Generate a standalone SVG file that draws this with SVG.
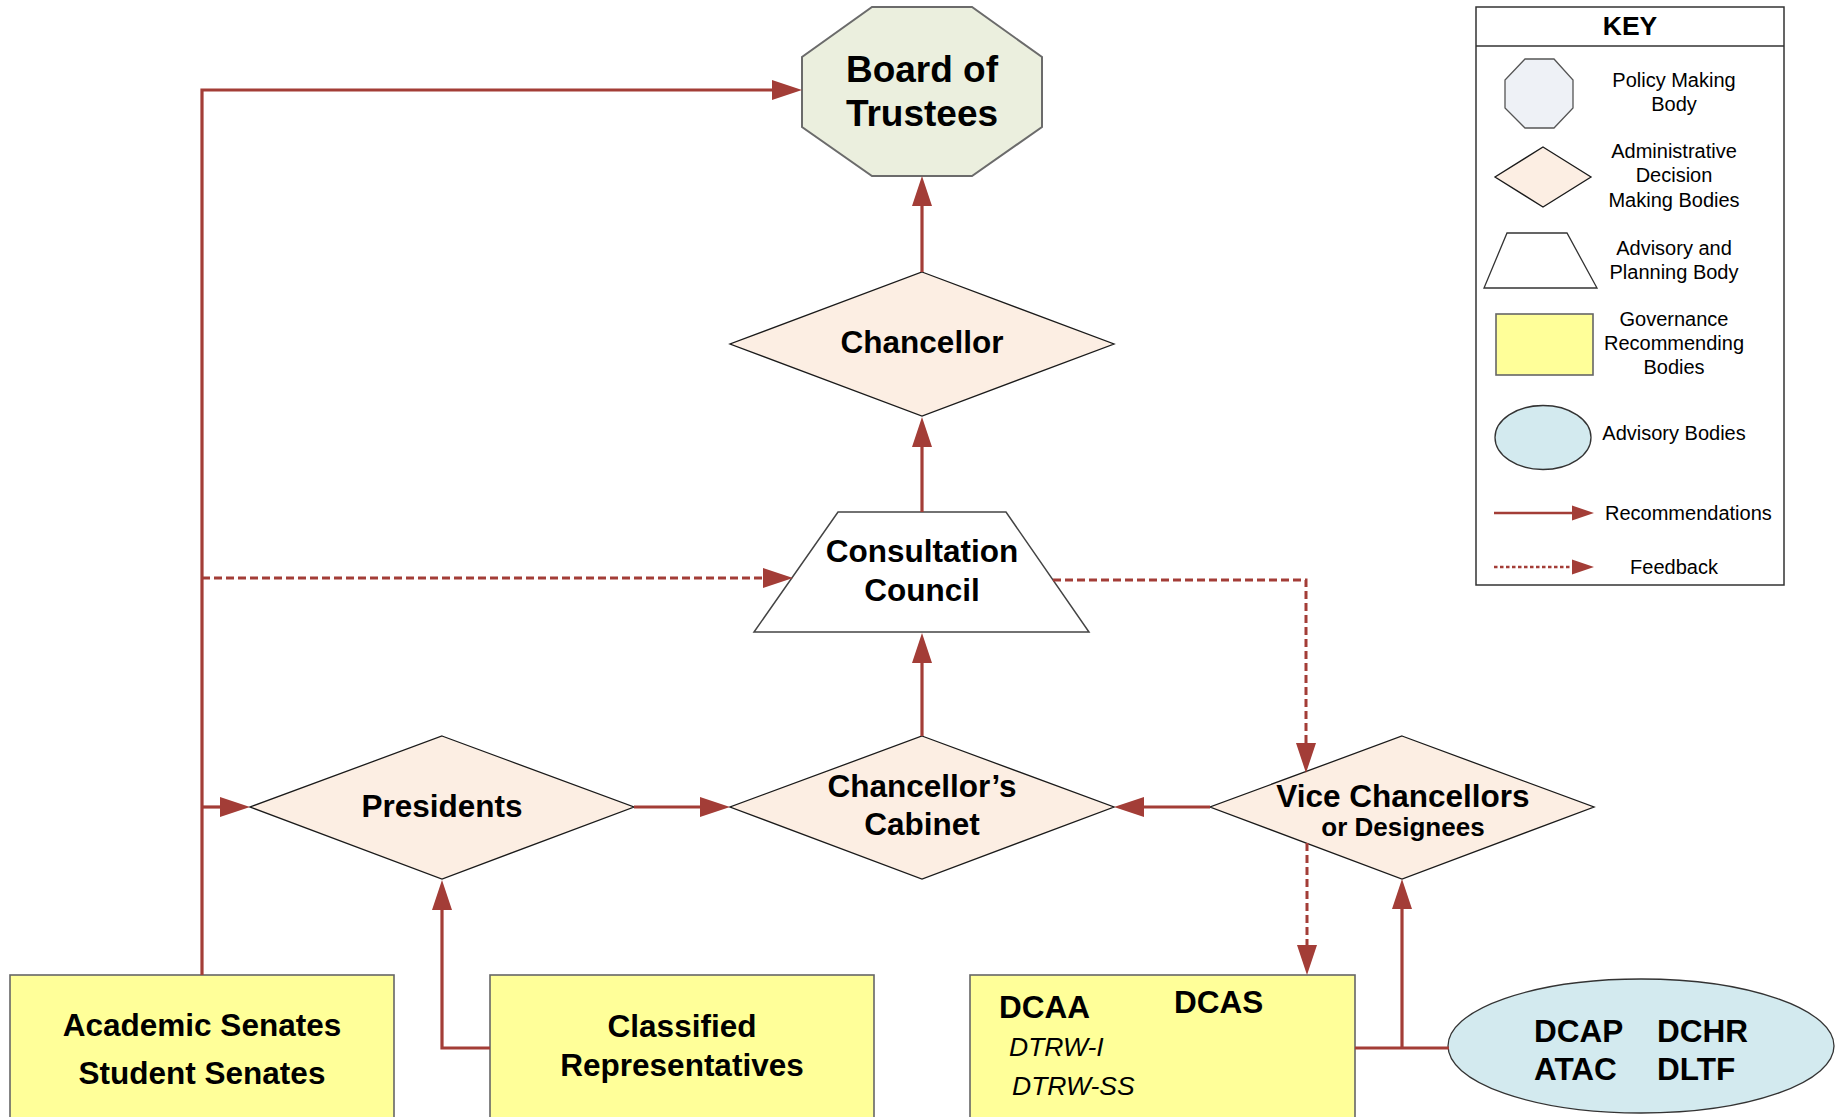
<svg xmlns="http://www.w3.org/2000/svg" width="1845" height="1117" viewBox="0 0 1845 1117">
<style>
.t{font-family:"Liberation Sans",Arial,sans-serif;font-weight:bold;fill:#000;text-anchor:middle}
.b{font-size:31.5px}
.k{font-family:"Liberation Sans",Arial,sans-serif;font-size:20px;fill:#000;text-anchor:middle}
.dia{fill:#FCEEE3;stroke:#1a1a1a;stroke-width:1.3}
.box{fill:#FFFF99;stroke:#666;stroke-width:1.6}
.ell{fill:#D3EAEF;stroke:#333;stroke-width:1.3}
.c{fill:none;stroke:#A33D37;stroke-width:3.2;marker-end:url(#ah)}
.n{fill:none;stroke:#A33D37;stroke-width:3.2}
.d{fill:none;stroke:#A33D37;stroke-width:3;stroke-dasharray:8,4;marker-end:url(#ah)}
</style>
<defs>
<marker id="ah" markerUnits="userSpaceOnUse" markerWidth="30" markerHeight="20" viewBox="0 0 30 20" refX="0" refY="10" orient="auto" overflow="visible"><path d="M0,0 L30,10 L0,20 z" fill="#A33D37"/></marker>
<marker id="ahs" markerUnits="userSpaceOnUse" markerWidth="22" markerHeight="15" viewBox="0 0 22 15" refX="0" refY="7.5" orient="auto" overflow="visible"><path d="M0,0 L22,7.5 L0,15 z" fill="#A33D37"/></marker>
</defs>
<rect width="1845" height="1117" fill="#fff"/>

<g id="board">
<polygon points="872,7 972,7 1042,57 1042,127 972,176 872,176 802,127 802,57" fill="#EBEFDE" stroke="#6b6b6b" stroke-width="2"/>
<text class="t" x="922" y="82" font-size="37">Board of</text>
<text class="t" x="922" y="126" font-size="37">Trustees</text>
</g>

<g id="chancellor">
<polygon class="dia" points="922,272 1114,344 922,416 730,344"/>
<text class="t b" x="922" y="353">Chancellor</text>
</g>

<g id="consultation">
<polygon points="838,512 1006,512 1089,632 754,632" fill="#fff" stroke="#444" stroke-width="1.5"/>
<text class="t b" x="922" y="562">Consultation</text>
<text class="t b" x="922" y="601">Council</text>
</g>

<g id="presidents">
<polygon class="dia" points="442,736 634,807 442,879 250,807"/>
<text class="t b" x="442" y="817">Presidents</text>
</g>

<g id="cabinet">
<polygon class="dia" points="922,736 1114,807 922,879 730,807"/>
<text class="t b" x="922" y="797">Chancellor’s</text>
<text class="t b" x="922" y="835">Cabinet</text>
</g>

<g id="vice">
<polygon class="dia" points="1402,736 1594,807 1402,879 1210,807"/>
<text class="t b" x="1403" y="807">Vice Chancellors</text>
<text class="t" x="1403" y="836" font-size="26">or Designees</text>
</g>

<g id="senates">
<rect class="box" x="10" y="975" width="384" height="160"/>
<text class="t b" x="202" y="1036">Academic Senates</text>
<text class="t b" x="202" y="1084">Student Senates</text>
</g>

<g id="classified">
<rect class="box" x="490" y="975" width="384" height="160"/>
<text class="t b" x="682" y="1037">Classified</text>
<text class="t b" x="682" y="1076">Representatives</text>
</g>

<g id="dcaa">
<rect class="box" x="970" y="975" width="385" height="160"/>
<text class="t b" x="999" y="1018" style="text-anchor:start">DCAA</text>
<text class="t b" x="1174" y="1013" style="text-anchor:start">DCAS</text>
<text x="1009" y="1056" font-family="Liberation Sans, Arial, sans-serif" font-size="26.5" font-style="italic">DTRW-I</text>
<text x="1012" y="1095" font-family="Liberation Sans, Arial, sans-serif" font-size="26.5" font-style="italic">DTRW-SS</text>
</g>

<g id="advisory">
<ellipse class="ell" cx="1641" cy="1046" rx="193" ry="67"/>
<text class="t b" x="1534" y="1042" style="text-anchor:start">DCAP</text>
<text class="t b" x="1657" y="1042" style="text-anchor:start">DCHR</text>
<text class="t b" x="1534" y="1080" style="text-anchor:start">ATAC</text>
<text class="t b" x="1657" y="1080" style="text-anchor:start">DLTF</text>
</g>

<g id="connectors">
<path class="c" d="M922,272 V206"/>
<path class="c" d="M922,512 V447"/>
<path class="c" d="M922,736 V663"/>
<path class="c" d="M634,807 H700"/>
<path class="c" d="M1210,807 H1144"/>
<path class="c" d="M202,975 V90 H772"/>
<path class="c" d="M202,807 H220"/>
<path class="d" d="M202,578 H763"/>
<path class="d" d="M1053,580 H1306 V743"/>
<path class="d" d="M1307,843 V945"/>
<path class="c" d="M490,1048 H442 V910"/>
<path class="n" d="M1355,1048 H1449"/>
<path class="c" d="M1402,1048 V909"/>
</g>

<g id="key" transform="translate(-3,0)">
<rect x="1479" y="7" width="308" height="578" fill="#fff" stroke="#333" stroke-width="1.5"/>
<line x1="1479" y1="46" x2="1787" y2="46" stroke="#333" stroke-width="1.5"/>
<text class="t" x="1633" y="35" font-size="26.5">KEY</text>
<polygon points="1528,59 1557,59 1576,80 1576,108 1557,128 1528,128 1508,108 1508,80" fill="#EEF1F6" stroke="#555" stroke-width="1.3"/>
<text class="k" x="1677" y="87">Policy Making</text>
<text class="k" x="1677" y="110.5">Body</text>
<polygon class="dia" points="1546,147 1594,177 1546,207 1498,177"/>
<text class="k" x="1677" y="158">Administrative</text>
<text class="k" x="1677" y="182">Decision</text>
<text class="k" x="1677" y="207">Making Bodies</text>
<polygon points="1510,233 1570,233 1600,288 1487,288" fill="#fff" stroke="#333" stroke-width="1.3"/>
<text class="k" x="1677" y="254.5">Advisory and</text>
<text class="k" x="1677" y="278.5">Planning Body</text>
<rect class="box" x="1499" y="314" width="97" height="61"/>
<text class="k" x="1677" y="326">Governance</text>
<text class="k" x="1677" y="350">Recommending</text>
<text class="k" x="1677" y="374">Bodies</text>
<ellipse class="ell" cx="1546" cy="437.5" rx="48" ry="32"/>
<text class="k" x="1677" y="440">Advisory Bodies</text>
<path d="M1497,513 H1575" fill="none" stroke="#A33D37" stroke-width="2.6" marker-end="url(#ahs)"/>
<text class="k" x="1608" y="520" style="text-anchor:start">Recommendations</text>
<path d="M1497,567 H1575" fill="none" stroke="#A33D37" stroke-width="2.4" stroke-dasharray="3.5,2.5" marker-end="url(#ahs)"/>
<text class="k" x="1677" y="574">Feedback</text>
</g>
</svg>
